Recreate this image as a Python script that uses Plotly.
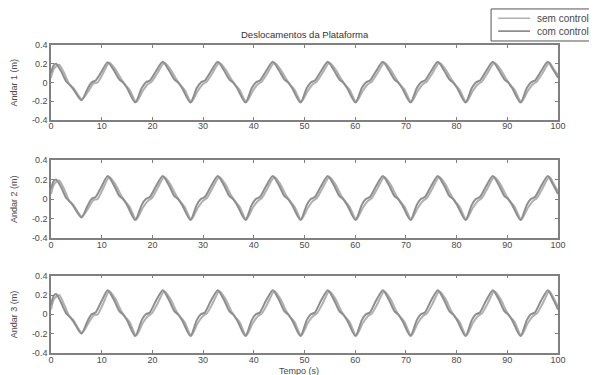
import plotly.graph_objects as go

# ---------------- data ----------------
# time samples (s) for the "com controle" curves
t_com = [0, 0.5, 1.0, 2.0, 3.0, 3.8, 4.5, 6.0, 7.2, 8.0, 8.8, 9.9,
         11.2, 12.4, 13.5, 14.2, 15.0, 16.6, 17.9, 18.7, 19.5, 20.7,
         22.05, 23.25, 24.35, 25.05, 25.85, 27.5, 28.75, 29.55, 30.35, 31.55,
         32.9, 34.1, 35.2, 35.9, 36.7, 38.35, 39.6, 40.4, 41.2, 42.4,
         43.75, 44.95, 46.05, 46.75, 47.55, 49.2, 50.45, 51.25, 52.05, 53.25,
         54.6, 55.8, 56.9, 57.6, 58.4, 60.05, 61.3, 62.1, 62.9, 64.1,
         65.45, 66.65, 67.75, 68.45, 69.25, 70.9, 72.15, 72.95, 73.75, 74.95,
         76.3, 77.5, 78.6, 79.3, 80.1, 81.75, 83.0, 83.8, 84.6, 85.8,
         87.15, 88.35, 89.45, 90.15, 90.95, 92.6, 93.85, 94.65, 95.45, 96.65,
         98.0, 99.0, 100.0]

# time samples (s) for the "sem controle" curves
t_sem = [0, 0.6, 1.6, 2.6, 3.6, 4.4, 6.1, 7.4, 8.4, 9.2, 10.2,
         11.5, 12.7, 13.9, 14.7, 15.5, 16.8, 18.1, 19.1, 19.9, 21.0,
         22.35, 23.55, 24.75, 25.55, 26.35, 27.65, 28.95, 29.95, 30.75, 31.85,
         33.2, 34.4, 35.6, 36.4, 37.2, 38.5, 39.8, 40.8, 41.6, 42.7,
         44.05, 45.25, 46.45, 47.25, 48.05, 49.35, 50.65, 51.65, 52.45, 53.55,
         54.9, 56.1, 57.3, 58.1, 58.9, 60.2, 61.5, 62.5, 63.3, 64.4,
         65.75, 66.95, 68.15, 68.95, 69.75, 71.05, 72.35, 73.35, 74.15, 75.25,
         76.6, 77.8, 79.0, 79.8, 80.6, 81.9, 83.2, 84.2, 85.0, 86.1,
         87.45, 88.65, 89.85, 90.65, 91.45, 92.75, 94.05, 95.05, 95.85, 96.95,
         98.3, 99.3, 100.0]

andar1_com = [0.10, 0.18, 0.20, 0.12, 0.01, -0.03, -0.08, -0.19, -0.07, 0.0, 0.02, 0.11,
              0.215, 0.13, 0.03, 0.0, -0.06, -0.215, -0.06, 0.0, 0.02, 0.12,
              0.22, 0.13, 0.03, 0.0, -0.06, -0.215, -0.06, 0.0, 0.02, 0.12,
              0.22, 0.13, 0.03, 0.0, -0.06, -0.215, -0.06, 0.0, 0.02, 0.12,
              0.22, 0.13, 0.03, 0.0, -0.06, -0.215, -0.06, 0.0, 0.02, 0.12,
              0.22, 0.13, 0.03, 0.0, -0.06, -0.215, -0.06, 0.0, 0.02, 0.12,
              0.22, 0.13, 0.03, 0.0, -0.06, -0.215, -0.06, 0.0, 0.02, 0.12,
              0.22, 0.13, 0.03, 0.0, -0.06, -0.215, -0.06, 0.0, 0.02, 0.12,
              0.22, 0.13, 0.03, 0.0, -0.06, -0.215, -0.06, 0.0, 0.02, 0.12,
              0.22, 0.14, 0.05]
andar1_sem = [0.05, 0.15, 0.19, 0.10, -0.02, -0.06, -0.18, -0.09, -0.01, 0.0, 0.09,
              0.21, 0.14, 0.03, -0.03, -0.08, -0.21, -0.09, -0.02, 0.01, 0.10,
              0.21, 0.14, 0.03, -0.03, -0.08, -0.21, -0.09, -0.02, 0.01, 0.10,
              0.21, 0.14, 0.03, -0.03, -0.08, -0.21, -0.09, -0.02, 0.01, 0.10,
              0.21, 0.14, 0.03, -0.03, -0.08, -0.21, -0.09, -0.02, 0.01, 0.10,
              0.21, 0.14, 0.03, -0.03, -0.08, -0.21, -0.09, -0.02, 0.01, 0.10,
              0.21, 0.14, 0.03, -0.03, -0.08, -0.21, -0.09, -0.02, 0.01, 0.10,
              0.21, 0.14, 0.03, -0.03, -0.08, -0.21, -0.09, -0.02, 0.01, 0.10,
              0.21, 0.14, 0.03, -0.03, -0.08, -0.21, -0.09, -0.02, 0.01, 0.10,
              0.21, 0.13, 0.08]

andar2_com = [0.10, 0.18, 0.20, 0.12, 0.01, -0.03, -0.08, -0.19, -0.07, 0.0, 0.02, 0.12,
              0.235, 0.14, 0.03, 0.0, -0.06, -0.215, -0.06, 0.0, 0.02, 0.13,
              0.235, 0.14, 0.03, 0.0, -0.06, -0.215, -0.06, 0.0, 0.02, 0.13,
              0.235, 0.14, 0.03, 0.0, -0.06, -0.215, -0.06, 0.0, 0.02, 0.13,
              0.235, 0.14, 0.03, 0.0, -0.06, -0.215, -0.06, 0.0, 0.02, 0.13,
              0.235, 0.14, 0.03, 0.0, -0.06, -0.215, -0.06, 0.0, 0.02, 0.13,
              0.235, 0.14, 0.03, 0.0, -0.06, -0.215, -0.06, 0.0, 0.02, 0.13,
              0.235, 0.14, 0.03, 0.0, -0.06, -0.215, -0.06, 0.0, 0.02, 0.13,
              0.235, 0.14, 0.03, 0.0, -0.06, -0.215, -0.06, 0.0, 0.02, 0.13,
              0.235, 0.15, 0.05]
andar2_sem = [0.05, 0.15, 0.19, 0.10, -0.02, -0.06, -0.18, -0.09, -0.01, 0.0, 0.10,
              0.225, 0.15, 0.03, -0.03, -0.08, -0.21, -0.09, -0.02, 0.01, 0.11,
              0.225, 0.15, 0.03, -0.03, -0.08, -0.21, -0.09, -0.02, 0.01, 0.11,
              0.225, 0.15, 0.03, -0.03, -0.08, -0.21, -0.09, -0.02, 0.01, 0.11,
              0.225, 0.15, 0.03, -0.03, -0.08, -0.21, -0.09, -0.02, 0.01, 0.11,
              0.225, 0.15, 0.03, -0.03, -0.08, -0.21, -0.09, -0.02, 0.01, 0.11,
              0.225, 0.15, 0.03, -0.03, -0.08, -0.21, -0.09, -0.02, 0.01, 0.11,
              0.225, 0.15, 0.03, -0.03, -0.08, -0.21, -0.09, -0.02, 0.01, 0.11,
              0.225, 0.15, 0.03, -0.03, -0.08, -0.21, -0.09, -0.02, 0.01, 0.11,
              0.225, 0.14, 0.08]

andar3_com = [0.10, 0.19, 0.21, 0.12, 0.01, -0.03, -0.08, -0.20, -0.07, 0.0, 0.02, 0.13,
              0.25, 0.15, 0.03, 0.0, -0.06, -0.225, -0.06, 0.0, 0.02, 0.14,
              0.25, 0.15, 0.03, 0.0, -0.06, -0.225, -0.06, 0.0, 0.02, 0.14,
              0.25, 0.15, 0.03, 0.0, -0.06, -0.225, -0.06, 0.0, 0.02, 0.14,
              0.25, 0.15, 0.03, 0.0, -0.06, -0.225, -0.06, 0.0, 0.02, 0.14,
              0.25, 0.15, 0.03, 0.0, -0.06, -0.225, -0.06, 0.0, 0.02, 0.14,
              0.25, 0.15, 0.03, 0.0, -0.06, -0.225, -0.06, 0.0, 0.02, 0.14,
              0.25, 0.15, 0.03, 0.0, -0.06, -0.225, -0.06, 0.0, 0.02, 0.14,
              0.25, 0.15, 0.03, 0.0, -0.06, -0.225, -0.06, 0.0, 0.02, 0.14,
              0.25, 0.16, 0.05]
andar3_sem = [0.05, 0.16, 0.20, 0.10, -0.02, -0.06, -0.19, -0.09, -0.01, 0.0, 0.10,
              0.24, 0.16, 0.03, -0.03, -0.08, -0.22, -0.09, -0.02, 0.01, 0.11,
              0.24, 0.16, 0.03, -0.03, -0.08, -0.22, -0.09, -0.02, 0.01, 0.11,
              0.24, 0.16, 0.03, -0.03, -0.08, -0.22, -0.09, -0.02, 0.01, 0.11,
              0.24, 0.16, 0.03, -0.03, -0.08, -0.22, -0.09, -0.02, 0.01, 0.11,
              0.24, 0.16, 0.03, -0.03, -0.08, -0.22, -0.09, -0.02, 0.01, 0.11,
              0.24, 0.16, 0.03, -0.03, -0.08, -0.22, -0.09, -0.02, 0.01, 0.11,
              0.24, 0.16, 0.03, -0.03, -0.08, -0.22, -0.09, -0.02, 0.01, 0.11,
              0.24, 0.16, 0.03, -0.03, -0.08, -0.22, -0.09, -0.02, 0.01, 0.11,
              0.24, 0.15, 0.08]

series_names = ["sem controle", "com controle"]
y_titles = ["Andar 1 (m)", "Andar 2 (m)", "Andar 3 (m)"]
x_ticks = [0, 10, 20, 30, 40, 50, 60, 70, 80, 90, 100]
y_tickvals = [-0.4, -0.2, 0, 0.2, 0.4]
y_ticktext = ["-0.4", "-0.2", "0", "0.2", "0.4"]
title_text = "Deslocamentos da Plataforma"
x_title = "Tempo (s)"

# ---------------- figure ----------------
sem_data = [andar1_sem, andar2_sem, andar3_sem]
com_data = [andar1_com, andar2_com, andar3_com]
domains = [[0.757, 1.0], [0.373, 0.627], [0.0, 0.251]]

col_sem = "#b0b0b0"
col_com = "#8e8e8e"
axis_col = "#808080"
text_col = "#4a4a4a"
FONT = "Liberation Sans, Arial, sans-serif"

fig = go.Figure()
layout = {}
annotations = []
for i in range(3):
    xa = "x" if i == 0 else f"x{i+1}"
    ya = "y" if i == 0 else f"y{i+1}"
    fig.add_trace(go.Scatter(x=t_sem, y=sem_data[i], mode="lines", name=series_names[0],
                             line=dict(color=col_sem, width=2.0, shape="spline", smoothing=0.7),
                             xaxis=xa, yaxis=ya, showlegend=False))
    fig.add_trace(go.Scatter(x=t_com, y=com_data[i], mode="lines", name=series_names[1],
                             line=dict(color=col_com, width=2.0, shape="spline", smoothing=0.7),
                             xaxis=xa, yaxis=ya, showlegend=False))
    xkey = "xaxis" if i == 0 else f"xaxis{i+1}"
    ykey = "yaxis" if i == 0 else f"yaxis{i+1}"
    layout[xkey] = dict(domain=[0, 1], anchor=ya, range=[0, 100], tickvals=x_ticks,
                        showgrid=False, zeroline=False, showline=True, mirror="ticks",
                        linecolor=axis_col, linewidth=1.6, ticks="inside", ticklen=3,
                        ticklabelstandoff=-3,
                        tickcolor=axis_col, tickfont=dict(size=9, color=text_col, family=FONT))
    layout[ykey] = dict(domain=domains[i], anchor=xa, range=[-0.4, 0.4],
                        tickvals=y_tickvals, ticktext=y_ticktext,
                        showgrid=False, zeroline=False, showline=True, mirror="ticks",
                        linecolor=axis_col, linewidth=1.6, ticks="inside", ticklen=3,
                        tickcolor=axis_col, tickfont=dict(size=9, color=text_col, family=FONT))
    annotations.append(dict(text=y_titles[i], xref="paper", yref=f"{ya} domain",
                            x=-0.073, y=0.5, xanchor="center", yanchor="middle",
                            textangle=-90, showarrow=False,
                            font=dict(size=9, color=text_col, family=FONT)))

annotations.append(dict(text=title_text, xref="paper", yref="paper", x=0.5, y=1.033,
                        xanchor="center", yanchor="middle", showarrow=False,
                        font=dict(size=9.5, color="#333333", family=FONT)))
annotations.append(dict(text=x_title, xref="paper", yref="paper", x=0.49, y=-0.057,
                        xanchor="center", yanchor="middle", showarrow=False,
                        font=dict(size=9, color=text_col, family=FONT)))

# legend box (drawn as paper-positioned box, samples and labels)
legend_cols = [col_sem, col_com]
legend_y = [1.087, 1.045]
shapes = [dict(type="rect", xref="paper", yref="paper", x0=0.868, x1=1.2, y0=1.013, y1=1.117,
               line=dict(color="#555555", width=1), fillcolor="white", layer="above")]
for name, c, yy in zip(series_names, legend_cols, legend_y):
    shapes.append(dict(type="line", xref="paper", yref="paper", x0=0.882, x1=0.945,
                       y0=yy, y1=yy, line=dict(color=c, width=1.6), layer="above"))
    annotations.append(dict(text=name, xref="paper", yref="paper", x=0.955, y=yy,
                            xanchor="left", yanchor="middle", showarrow=False,
                            font=dict(size=10, color=text_col, family=FONT)))

fig.update_layout(**layout)
# page body has an 8px default margin: size the figure to fit the 597x375 window
fig.update_layout(
    width=589, height=367,
    margin=dict(l=43, r=39, t=37, b=22, autoexpand=False),
    paper_bgcolor="white", plot_bgcolor="white",
    annotations=annotations,
    shapes=shapes,
    showlegend=False,
)

fig.write_html("out.html")
